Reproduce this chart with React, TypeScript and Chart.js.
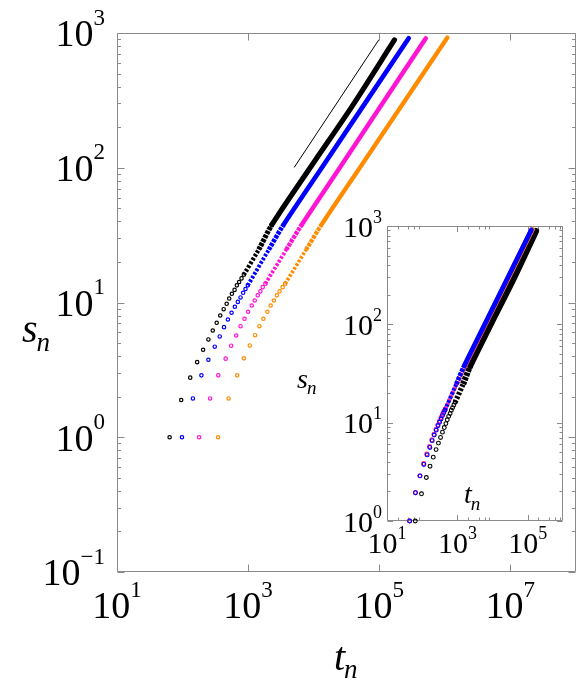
import React, { useEffect, useRef } from "react";
import { Chart, registerables } from "chart.js";
Chart.register(...registerables);

// ---------- data ----------
// individually visible points (t_n, s_n)
const blackT = [63.5, 95.5, 131, 167, 206, 248, 289, 332, 376, 424, 471, 515, 566, 622, 674, 730, 794, 861];
const blackS = [1.0, 1.89, 2.77, 3.61, 4.46, 5.32, 6.2, 7.07, 8.01, 8.92, 9.78, 10.7, 11.6, 12.4, 13.4, 14.2, 15.1, 16.1];
const blueT = [98, 144, 194, 248, 310, 369, 429, 492, 560, 628, 698, 767, 840, 913, 990];
const blueS = [1.0, 1.94, 2.88, 3.76, 4.7, 5.6, 6.56, 7.48, 8.39, 9.3, 10.1, 10.9, 11.8, 12.6, 13.4];
const magentaT = [179, 263, 351, 455, 552, 658, 767, 882, 1000, 1138, 1263, 1403, 1542, 1670, 1835];
const magentaS = [1.0, 1.94, 2.88, 3.83, 4.78, 5.69, 6.67, 7.57, 8.53, 9.5, 10.35, 11.3, 12.1, 13.0, 13.8];
const orangeT = [348, 505, 681, 861, 1061, 1277, 1488, 1711, 1968, 2208, 2477, 2750, 3020, 3357, 3687];
const orangeS = [1.0, 1.94, 2.88, 3.85, 4.8, 5.72, 6.67, 7.57, 8.53, 9.5, 10.35, 11.3, 12.1, 13.0, 13.8];

// dense parts (points overlap into a thick band): knots along the band
const blackBandT = [861, 1452, 2310, 8900, 39950, 171000];
const blackBandS = [16.1, 24.7, 37.8, 100.5, 293, 888];
const blueBandT = [990, 2073, 3475, 13400, 282000];
const blueBandS = [13.4, 24.7, 37.8, 100.5, 914];
const magentaBandT = [1835, 3830, 6580, 25200, 515000];
const magentaBandS = [13.8, 24.7, 37.8, 100.5, 914];
const orangeBandT = [3687, 7690, 13200, 51000, 1100000];
const orangeBandS = [13.8, 24.7, 37.8, 100.5, 926];

// guide line (slope)
const refT = [5050, 99000];
const refS = [100.5, 892];

// inset: t_n rescaled per series (black, blue, magenta, orange)
const insetScale = [1, 0.448, 0.245, 0.126];

// tick labels (exponents of 10)
const mainXTickExp = [1, 3, 5, 7];
const mainYTickExp = [-1, 0, 1, 2, 3];
const insetXTickExp = [1, 3, 5];
const insetYTickExp = [0, 1, 2, 3];

// ---------- styling ----------
const COLORS = { black: "#000000", blue: "#0000ff", magenta: "#ff14d2", orange: "#ff8c00" };
const AXIS = "#8a8a8a";
const SERIF = '"Liberation Serif", "Times New Roman", serif';

const pts = (t: number[], s: number[], k = 1) => t.map((v, i) => ({ x: v * k, y: s[i] }));

function powLabel(
  ctx: CanvasRenderingContext2D, exp: number, x: number, baseline: number,
  align: "right" | "center", big: number, small: number, raise: number
) {
  const e = exp < 0 ? "\u2212" + Math.abs(exp) : String(exp);
  ctx.font = `${big}px ${SERIF}`;
  const w1 = ctx.measureText("10").width;
  ctx.font = `${small}px ${SERIF}`;
  const w2 = ctx.measureText(e).width;
  const x0 = align === "right" ? x - w1 - w2 : x - (w1 + w2) / 2;
  ctx.textAlign = "left";
  ctx.textBaseline = "alphabetic";
  ctx.fillStyle = "#000";
  ctx.font = `${big}px ${SERIF}`;
  ctx.fillText("10", x0, baseline);
  ctx.font = `${small}px ${SERIF}`;
  ctx.fillText(e, x0 + w1, baseline - raise);
}

function subTitle(
  ctx: CanvasRenderingContext2D, main: string, sub: string, x: number, baseline: number,
  big: number, small: number, drop: number
) {
  ctx.textAlign = "left";
  ctx.textBaseline = "alphabetic";
  ctx.fillStyle = "#000";
  ctx.font = `italic ${big}px ${SERIF}`;
  const w = ctx.measureText(main).width;
  ctx.fillText(main, x, baseline);
  ctx.font = `italic ${small}px ${SERIF}`;
  ctx.fillText(sub, x + w - 1, baseline + drop);
}

type FrameCfg = {
  xMajor: number[]; xMinor: number[]; yMajor: number[]; yMinor: number[];
  majorLen: number; minorLen: number;
};

function drawFrame(chart: any, f: FrameCfg) {
  const { ctx, chartArea } = chart;
  const { left, right, top, bottom } = chartArea;
  const xs = chart.scales.x, ys = chart.scales.y;
  const L = Math.round(left) + 0.5, R = Math.round(right) - 0.5;
  const T = Math.round(top) + 0.5, B = Math.round(bottom) - 0.5;
  ctx.save();
  ctx.strokeStyle = AXIS;
  ctx.lineWidth = 1;
  ctx.beginPath();
  ctx.rect(L, T, R - L, B - T);
  const yt = (v: number, len: number) => {
    const p = Math.round(ys.getPixelForValue(v)) + 0.5;
    ctx.moveTo(L, p); ctx.lineTo(L + len, p);
    ctx.moveTo(R, p); ctx.lineTo(R - len, p);
  };
  const xt = (v: number, len: number) => {
    const p = Math.round(xs.getPixelForValue(v)) + 0.5;
    ctx.moveTo(p, B); ctx.lineTo(p, B - len);
    ctx.moveTo(p, T); ctx.lineTo(p, T + len);
  };
  f.yMajor.forEach((v) => yt(v, f.majorLen));
  f.yMinor.forEach((v) => yt(v, f.minorLen));
  f.xMajor.forEach((v) => xt(v, f.majorLen));
  f.xMinor.forEach((v) => xt(v, f.minorLen));
  ctx.stroke();
  ctx.restore();
}

function minorList(fromExp: number, toExp: number, mults: number[]) {
  const out: number[] = [];
  for (let d = fromExp; d < toExp; d++) for (const m of mults) out.push(m * Math.pow(10, d));
  return out;
}

function seriesSets(k: number[], radius: number, pbw: number, bandW: number[]) {
  const names = ["black", "blue", "magenta", "orange"] as const;
  const T = [blackT, blueT, magentaT, orangeT];
  const S = [blackS, blueS, magentaS, orangeS];
  const BT = [blackBandT, blueBandT, magentaBandT, orangeBandT];
  const BS = [blackBandS, blueBandS, magentaBandS, orangeBandS];
  return names.map((n, i) => {
    const c = (COLORS as any)[n];
    const w = bandW[i];
    return [
      {
        data: pts(BT[i], BS[i], k[i]),
        showLine: true,
        borderColor: c,
        backgroundColor: c,
        borderWidth: w,
        tension: 0.3,
        borderCapStyle: "butt",
        borderJoinStyle: "round",
        pointRadius: 0,
        clip: false,
        segment: {
          // lower part of the band: overlapping hollow rings, drawn as a chain
          borderDash: (ctx: any) => (ctx.p0.parsed.y < 20 ? [2.6, 1.6] : ctx.p0.parsed.y < 30 ? [3.4, 1] : undefined),
          borderWidth: (ctx: any) => (ctx.p0.parsed.y < 20 ? w * 0.85 : w),
          borderCapStyle: (ctx: any) => (ctx.p0.parsed.y < 30 ? "butt" : "round"),
        },
      },
      {
        data: pts(T[i], S[i], k[i]),
        showLine: false,
        pointRadius: radius,
        pointBorderWidth: pbw,
        pointBorderColor: c,
        pointBackgroundColor: "rgba(255,255,255,0)",
        borderColor: c,
        clip: false,
      },
    ];
  });
}

export default function App() {
  const mainRef = useRef<HTMLCanvasElement>(null);
  const insetRef = useRef<HTMLCanvasElement>(null);

  useEffect(() => {
    // ---------- main chart ----------
    const m = seriesSets([1, 1, 1, 1], 1.7, 1.2, [5.2, 4.7, 4.5, 4.3]);
    const mainSets: any[] = [
      ...m[0], ...m[1], ...m[2], ...m[3],
      {
        data: pts(refT, refS),
        showLine: true,
        borderColor: "#000",
        borderWidth: 1,
        pointRadius: 0,
      },
    ];
    const mainFrame: FrameCfg = {
      xMajor: mainXTickExp.map((e) => Math.pow(10, e)),
      xMinor: [],
      yMajor: mainYTickExp.map((e) => Math.pow(10, e)),
      yMinor: minorList(-1, 3, [2, 3, 4, 5, 6, 7, 8, 9]),
      majorLen: 7,
      minorLen: 3.5,
    };
    const mainPlugin = {
      id: "mainFrame",
      beforeDatasetsDraw(chart: any) { drawFrame(chart, mainFrame); },
      afterDraw(chart: any) {
        const { ctx, chartArea } = chart;
        const xs = chart.scales.x, ys = chart.scales.y;
        ctx.save();
        mainYTickExp.forEach((e) => {
          const p = ys.getPixelForValue(Math.pow(10, e));
          powLabel(ctx, e, chartArea.left - 12, p + 13.4, "right", 38, 23, 21.7);
        });
        mainXTickExp.forEach((e) => {
          const p = xs.getPixelForValue(Math.pow(10, e));
          powLabel(ctx, e, p, chartArea.bottom + 46, "center", 38, 23, 21.5);
        });
        subTitle(ctx, "t", "n", 334, 670, 40, 27, 8);
        subTitle(ctx, "s", "n", 22, 342, 40, 27, 9);
        ctx.restore();
      },
    };
    const c1 = new Chart(mainRef.current!, {
      type: "scatter",
      data: { datasets: mainSets },
      options: {
        responsive: false,
        animation: false,
        devicePixelRatio: 1,
        events: [],
        layout: { padding: { left: 117, top: 33, right: 3, bottom: 112 } },
        plugins: { legend: { display: false }, tooltip: { enabled: false } },
        scales: {
          x: { type: "logarithmic", min: 10, max: 1e8, display: false },
          y: { type: "logarithmic", min: 0.1, max: 1000, display: false },
        },
      },
      plugins: [mainPlugin],
    } as any);

    // ---------- inset chart ----------
    const OX = 280, OY = 190;
    const s = seriesSets(insetScale, 1.9, 1.1, [6.2, 4.7, 4.5, 4.3]);
    // draw order: blue on top, then magenta, orange, black at the bottom
    const insetSets: any[] = [...s[1], ...s[2], ...s[3], ...s[0]];
    const insetFrame: FrameCfg = {
      xMajor: insetXTickExp.map((e) => Math.pow(10, e)),
      xMinor: [1, 3, 5].flatMap((d) => [2, 4, 6, 8].map((mm) => mm * Math.pow(10, d))),
      yMajor: insetYTickExp.map((e) => Math.pow(10, e)),
      yMinor: minorList(0, 3, [2, 3, 4, 5, 6, 7, 8, 9]),
      majorLen: 5.5,
      minorLen: 3,
    };
    const insetPlugin = {
      id: "insetFrame",
      beforeDatasetsDraw(chart: any) { drawFrame(chart, insetFrame); },
      afterDraw(chart: any) {
        const { ctx, chartArea } = chart;
        const xs = chart.scales.x, ys = chart.scales.y;
        ctx.save();
        insetYTickExp.forEach((e) => {
          const p = ys.getPixelForValue(Math.pow(10, e));
          powLabel(ctx, e, chartArea.left - 5, p + 10.5, "right", 30, 18, 14);
        });
        insetXTickExp.forEach((e) => {
          const p = xs.getPixelForValue(Math.pow(10, e));
          powLabel(ctx, e, p, chartArea.bottom + 32, "center", 30, 18, 14);
        });
        subTitle(ctx, "t", "n", 464 - OX, 503 - OY, 28, 19, 7);
        subTitle(ctx, "s", "n", 297 - OX, 388 - OY, 28, 19, 6);
        ctx.restore();
      },
    };
    const c2 = new Chart(insetRef.current!, {
      type: "scatter",
      data: { datasets: insetSets },
      options: {
        responsive: false,
        animation: false,
        devicePixelRatio: 1,
        events: [],
        layout: { padding: { left: 387 - OX, top: 226 - OY, right: 301 - (563 - OX), bottom: 380 - (521 - OY) } },
        plugins: { legend: { display: false }, tooltip: { enabled: false } },
        scales: {
          x: { type: "logarithmic", min: 10, max: 1e6, display: false },
          y: { type: "logarithmic", min: 1, max: 1000, display: false },
        },
      },
      plugins: [insetPlugin],
    } as any);

    return () => {
      c1.destroy();
      c2.destroy();
    };
  }, []);

  return (
    <div style={{ position: "absolute", left: 0, top: 0, width: 581, height: 684, background: "#fff" }}>
      <canvas ref={mainRef} width={581} height={684}
        style={{ position: "absolute", left: 0, top: 0, width: 581, height: 684 }} />
      <canvas ref={insetRef} width={301} height={380}
        style={{ position: "absolute", left: 280, top: 190, width: 301, height: 380 }} />
    </div>
  );
}
